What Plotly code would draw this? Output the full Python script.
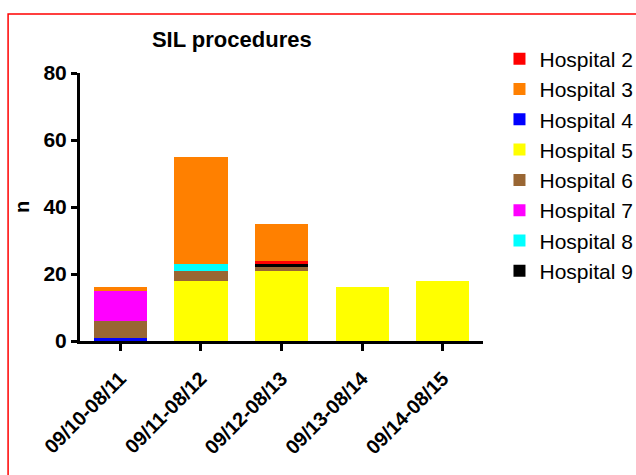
import plotly.graph_objects as go

periods = ["09/10-08/11", "09/11-08/12", "09/12-08/13", "09/13-08/14", "09/14-08/15"]

hospital_2 = [0, 0, 1, 0, 0]
hospital_3 = [1, 32, 11, 0, 0]
hospital_4 = [1, 0, 0, 0, 0]
hospital_5 = [0, 18, 21, 16, 18]
hospital_6 = [5, 3, 1, 0, 0]
hospital_7 = [9, 0, 0, 0, 0]
hospital_8 = [0, 2, 0, 0, 0]
hospital_9 = [0, 0, 1, 0, 0]

# stacking order (bottom -> top), with legend rank and colour
series = [
    ("Hospital 4", hospital_4, "#0000FF", 3),
    ("Hospital 5", hospital_5, "#FFFF00", 4),
    ("Hospital 6", hospital_6, "#996633", 5),
    ("Hospital 9", hospital_9, "#000000", 8),
    ("Hospital 7", hospital_7, "#FF00FF", 6),
    ("Hospital 8", hospital_8, "#00FFFF", 7),
    ("Hospital 2", hospital_2, "#FF0000", 1),
    ("Hospital 3", hospital_3, "#FF8000", 2),
]

FONT = "Liberation Sans, Arial, Helvetica, sans-serif"

fig = go.Figure()
for name, vals, col, rank in series:
    fig.add_trace(go.Bar(
        x=periods, y=vals, name=name,
        marker=dict(color=col, line=dict(width=0)),
        legendrank=rank, legendgroup=name,
        width=0.66,
    ))

W, H = 636, 475
L, R, T, B = 80, 152.5, 72.5, 134
pw = W - L - R
ph = H - T - B

def px2paper_x(px):
    return (px - L) / pw

def px2paper_y(py):
    return (H - B - py) / ph

fig.update_layout(
    width=W, height=H,
    barmode="stack",
    margin=dict(l=L, r=R, t=T, b=B, pad=0, autoexpand=False),
    paper_bgcolor="white", plot_bgcolor="white",
    font=dict(family=FONT, color="black"),
    title=dict(
        text="<b>SIL procedures</b>",
        x=px2paper_x(232), xref="paper", xanchor="center",
        y=1 - 39 / H, yref="container", yanchor="middle",
        font=dict(size=22, family=FONT, color="black"),
    ),
    xaxis=dict(
        range=[-0.5, 4.5],
        showline=True, linecolor="black", linewidth=3,
        ticks="outside", ticklen=7, tickwidth=3, tickcolor="black",
        tickangle=-45,
        ticklabelstandoff=8,
        tickfont=dict(size=20, family=FONT, color="black", weight="bold"),
        showgrid=False, zeroline=False,
    ),
    yaxis=dict(
        range=[0, 80],
        tickvals=[0, 20, 40, 60, 80],
        showline=True, linecolor="black", linewidth=3,
        ticks="outside", ticklen=6, tickwidth=3, tickcolor="black",
        tickfont=dict(size=21, family=FONT, color="black", weight="bold"),
        showgrid=False, zeroline=False,
        title=dict(text="<b>n</b>", font=dict(size=20, family=FONT, color="black"), standoff=9),
    ),
    legend=dict(
        x=px2paper_x(500), xanchor="left",
        y=px2paper_y(38), yanchor="top",
        traceorder="grouped",
        tracegroupgap=0,
        maxheight=460,
        font=dict(size=21, family=FONT, color="black"),
        bgcolor="rgba(0,0,0,0)",
    ),
    shapes=[dict(
        type="rect", xref="paper", yref="paper",
        x0=px2paper_x(8), x1=px2paper_x(700),
        y0=px2paper_y(520), y1=px2paper_y(13.5),
        line=dict(color="#FF0000", width=1.5),
        fillcolor="rgba(0,0,0,0)", layer="below",
    )],
)

fig.write_html(
    "out.html",
    config={"displayModeBar": False},
    post_script="document.body.style.margin='0';document.body.style.overflow='hidden';",
)
